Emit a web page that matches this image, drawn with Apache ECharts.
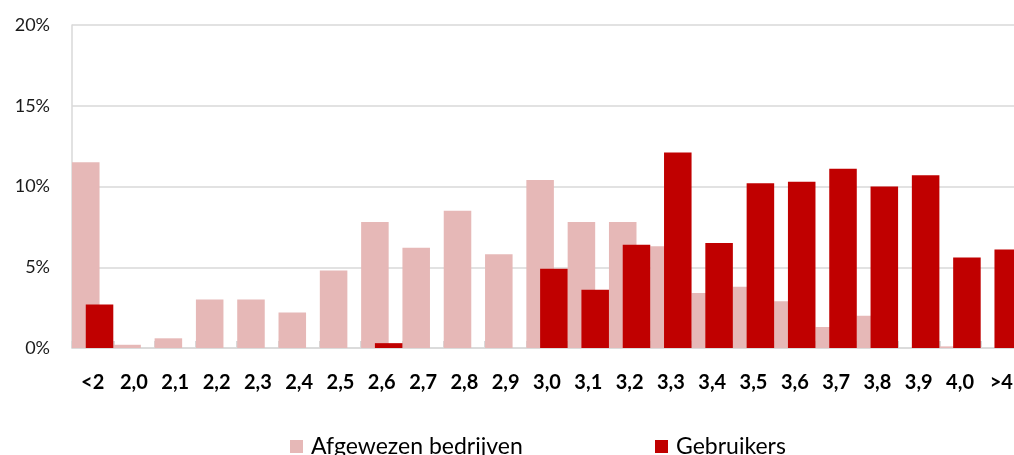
<!DOCTYPE html>
<html>
<head>
<meta charset="utf-8">
<script src="https://cdn.jsdelivr.net/npm/echarts@6/dist/echarts.min.js"></script>
<style>
  html, body { margin: 0; padding: 0; background: #fff; overflow: hidden; width: 1014px; height: 455px; }
  /* the plot area runs a few pixels past the right edge of the page */
  #chart { width: 1022px; height: 455px; }
</style>
</head>
<body>
<div id="chart"></div>
<script>
// Score classes on the x-axis
const categories = ['<2', '2,0', '2,1', '2,2', '2,3', '2,4', '2,5', '2,6', '2,7', '2,8', '2,9',
  '3,0', '3,1', '3,2', '3,3', '3,4', '3,5', '3,6', '3,7', '3,8', '3,9', '4,0', '>4'];

// Share per class, in percent
const afgewezen = [11.5, 0.2, 0.6, 3.0, 3.0, 2.2, 4.8, 7.8, 6.2, 8.5, 5.8,
  10.4, 7.8, 7.8, 6.3, 3.4, 3.8, 2.9, 1.3, 2.0, 0, 0.1, 0];
const gebruikers = [2.7, 0, 0, 0, 0, 0, 0, 0.3, 0, 0, 0,
  4.9, 3.6, 6.4, 12.1, 6.5, 10.2, 10.3, 11.1, 10.0, 10.7, 5.6, 6.1];

const seriesNames = ['Afgewezen bedrijven', 'Gebruikers'];
const yTicks = [0, 5, 10, 15, 20];

const font = 'Lato, "Open Sans", sans-serif';
const chart = echarts.init(document.getElementById('chart'), null, { renderer: 'canvas' });

const legendBase = {
  top: 430,
  itemWidth: 13,
  itemHeight: 13,
  icon: 'rect',
  textStyle: { fontSize: 23, color: '#000', fontFamily: font, padding: [0, 0, 0, 3] }
};

chart.setOption({
  animation: false,
  textStyle: { fontFamily: font },
  grid: { left: 72, right: 0, top: 25, bottom: 107, containLabel: false },
  legend: [
    Object.assign({}, legendBase, { left: 285, data: [seriesNames[0]] }),
    Object.assign({}, legendBase, { left: 650, data: [seriesNames[1]] })
  ],
  xAxis: {
    type: 'category',
    data: categories,
    axisLine: { show: true, lineStyle: { color: '#d9d9d9', width: 1.5 } },
    axisTick: { show: true, inside: true, length: 7, lineStyle: { color: '#d9d9d9', width: 2 } },
    axisLabel: { interval: 0, margin: 25, fontSize: 20, fontWeight: 'bold', color: '#000', fontFamily: font }
  },
  yAxis: {
    type: 'value',
    min: yTicks[0],
    max: yTicks[yTicks.length - 1],
    interval: yTicks[1] - yTicks[0],
    axisLine: { show: true, lineStyle: { color: '#d9d9d9', width: 1.5 } },
    axisTick: { show: false },
    splitLine: { lineStyle: { color: '#d9d9d9', width: 1.5 } },
    axisLabel: { margin: 22, fontSize: 18, color: '#1a1a1a', fontFamily: font, formatter: v => v + '%' }
  },
  series: [
    {
      name: seriesNames[0],
      type: 'bar',
      data: afgewezen,
      itemStyle: { color: '#e6b8b7' },
      barGap: '-50%',
      barCategoryGap: '0%'
    },
    {
      name: seriesNames[1],
      type: 'bar',
      data: gebruikers,
      itemStyle: { color: '#c00000' },
      barGap: '-50%',
      barCategoryGap: '0%'
    }
  ]
});
</script>
</body>
</html>
